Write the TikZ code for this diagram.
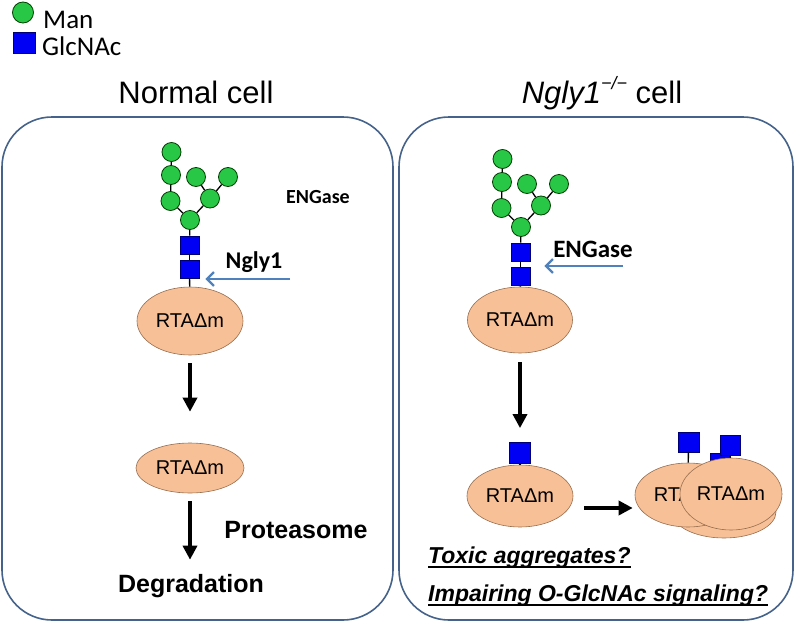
\documentclass[tikz,border=0pt]{standalone}
\usepackage{fontspec}
\setmainfont{Liberation Sans}
\newfontfamily\calibri{Carlito}
\usetikzlibrary{arrows.meta,shapes.geometric,positioning}
\definecolor{bordcell}{RGB}{68,98,138}
\definecolor{fleche}{RGB}{79,129,189}
\definecolor{vertman}{RGB}{40,200,70}
\definecolor{bleuglc}{RGB}{0,0,245}
\definecolor{peche}{RGB}{248,192,150}
\definecolor{brunpeche}{RGB}{150,110,80}
\begin{document}
\begin{tikzpicture}[x=1pt,y=-1pt,
    man/.style={circle,draw=black!75!green,fill=vertman,line width=0.8pt,minimum size=19pt,inner sep=0pt},
    glcnac/.style={rectangle,draw=blue!45!black,fill=bleuglc,line width=0.8pt,minimum width=19pt,minimum height=18pt,inner sep=0pt},
    proteine/.style={ellipse,draw=brunpeche,fill=peche,line width=0.6pt,inner sep=0pt,font=\fontsize{20}{24}\selectfont},
    lien/.style={line width=1.3pt},
    grosse/.style={line width=3.4pt,-{Triangle[length=14pt,width=14pt]}},
    coupure/.style={fleche,line width=2.2pt,-{Straight Barb[length=7pt,width=14pt]}},
    cellule/.style={draw=bordcell,line width=1.6pt,rounded corners=50pt,inner sep=0pt},
    enzyme/.style={anchor=base,inner sep=0pt,font=\calibri\bfseries\fontsize{24}{28}\selectfont},
    etape/.style={anchor=base,inner sep=0pt,font=\bfseries\fontsize{25}{30}\selectfont},
    question/.style={anchor=base west,inner sep=0pt,font=\bfseries\itshape\fontsize{23}{27}\selectfont}]
    \useasboundingbox (0,0) rectangle (796,624);

    % Légende
    \node[man,minimum size=21pt] (legM) at (23,12.5) {};
    \node[anchor=base west,inner sep=0pt,font=\calibri\fontsize{27}{30}\selectfont] (legMt) at (43,28) {Man};
    \node[glcnac,minimum width=22pt,minimum height=21pt] (legG) at (24,42.5) {};
    \node[anchor=base west,inner sep=0pt,font=\calibri\fontsize{27}{30}\selectfont] (legGt) at (42,55) {GlcNAc};

    % Titres et cellules
    \node[anchor=base,font=\fontsize{31}{36}\selectfont] (titreN) at (196,103) {Normal cell};
    \node[anchor=base,font=\fontsize{31}{36}\selectfont] (titreK) at (602,103)
        {\itshape Ngly1\raisebox{0.42em}{\fontsize{18}{20}\selectfont −/−}\upshape\ cell};
    \node[cellule,minimum width=391pt,minimum height=503pt] (celN) at (197.5,368.5) {};
    \node[cellule,minimum width=394pt,minimum height=503pt] (celK) at (596,368.5) {};

    % Glycanes (Man9GlcNAc2)
    \foreach \s/\dx/\dy in {L/0/0,R/331/7} {
        \begin{scope}[shift={(\dx,\dy)}]
            \node[man] (\s m1) at (171.5,152) {};
            \node[man] (\s m2) at (171,175) {};
            \node[man] (\s m3) at (170.5,201) {};
            \node[man] (\s m4) at (196,177) {};
            \node[man] (\s m5) at (228,177) {};
            \node[man] (\s m6) at (210,198.5) {};
            \node[man] (\s m7) at (190,220) {};
            \node[glcnac] (\s g1) at (189.5,245) {};
            \node[glcnac] (\s g2) at (189.5,269.5) {};
        \end{scope}
        \draw[lien] (\s m1) -- (\s m2);
        \draw[lien] (\s m2) -- (\s m3);
        \draw[lien] (\s m3) -- (\s m7);
        \draw[lien] (\s m4) -- (\s m6);
        \draw[lien] (\s m5) -- (\s m6);
        \draw[lien] (\s m6) -- (\s m7);
        \draw[lien] (\s m7) -- (\s g1);
        \draw[lien] (\s g1) -- (\s g2);
    }

    % Cellule normale
    \node[proteine,minimum width=106pt,minimum height=68pt] (pL1) at (190,321) {RTAΔm};
    \node[proteine,minimum width=108pt,minimum height=50pt] (pL2) at (190,468) {RTAΔm};
    \draw[lien] (Lg2) -- (pL1);
    \node[enzyme,font=\calibri\bfseries\fontsize{20}{24}\selectfont] (engL) at (318,203) {ENGase};
    \node[enzyme] (ngly) at (254,268) {Ngly1};
    \coordinate (nglyD) at (290,279);
    \draw[coupure,shorten >=6pt] (nglyD) -- (nglyD -| Lg2.east);
    \node[etape] (degr) at (191,592) {Degradation};
    \node[etape] (prot) at (296,538) {Proteasome};
    \draw[grosse,shorten <=8pt,shorten >=31pt] (pL1) -- (pL2);
    \draw[grosse,shorten <=8pt,shorten >=14pt] (pL2) -- (pL2 |- degr.north);

    % Cellule Ngly1-/-
    \node[proteine,minimum width=105pt,minimum height=66pt] (pR1) at (520,320) {RTAΔm};
    \draw[lien] (Rg2) -- (pR1);
    \node[enzyme,font=\calibri\bfseries\fontsize{25}{28}\selectfont] (engR) at (593,257) {ENGase};
    \coordinate (engD) at (623,266);
    \draw[coupure,shorten >=14pt] (engD) -- (engD -| Rg2.east);
    \node[glcnac,minimum width=21pt,minimum height=21pt] (sR) at (520,453) {};
    \node[proteine,minimum width=106pt,minimum height=62pt] (pR2) at (520,496) {RTAΔm};
    \draw[lien] (sR) -- (pR2);
    \draw[grosse,shorten <=9pt,shorten >=14pt] (pR1) -- (sR);

    % Agrégats
    \node[proteine,minimum width=104pt,minimum height=52pt] (aggB) at (724,512) {};
    \node[proteine,minimum width=106pt,minimum height=64pt] (aggL) at (688,495) {RTAΔm};
    \node[glcnac,minimum width=21pt,minimum height=20pt] (aS1) at (688.5,442) {};
    \draw[lien] (aS1) -- (aggL);
    \node[glcnac,minimum width=20pt,minimum height=20pt] (aS2) at (720.5,463) {};
    \node[glcnac,minimum width=20pt,minimum height=20pt] (aS3) at (730,445) {};
    \node[proteine,minimum width=102pt,minimum height=72pt] (aggF) at (731,494) {RTAΔm};
    \draw[lien] (aS3) -- (aggF);
    \coordinate (hA) at (584,508);
    \draw[grosse,shorten >=2pt] (hA) -- (hA -| aggL.west);

    % Hypothèses
    \node[question] (toxic) at (428,563) {Toxic aggregates?};
    \draw[line width=1.3pt] ([yshift=-4pt]toxic.base west) -- ([yshift=-4pt]toxic.base east);
    \node[question] (imp) at (428,601) {Impairing O-GlcNAc signaling?};
    \draw[line width=1.3pt] ([yshift=-4pt]imp.base west) -- ([yshift=-4pt]imp.base east);
\end{tikzpicture}
\end{document}
